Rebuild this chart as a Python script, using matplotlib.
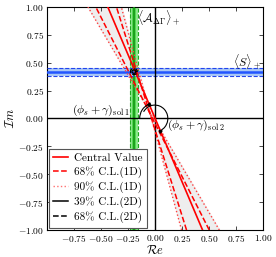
import numpy as np
import matplotlib
matplotlib.use("Agg")
import matplotlib.pyplot as plt
from matplotlib.patches import Arc
from matplotlib.ticker import FuncFormatter

plt.rcParams['mathtext.fontset'] = 'cm'
plt.rcParams['font.family'] = 'serif'
plt.rcParams['font.serif'] = ['DejaVu Serif']

# bande verticale (A_DeltaGamma) et horizontale (S)
re_center, re_half = -0.193, 0.035
im_center, im_half = 0.42, 0.035

# droites rouges : abscisse a Im=+1 et a Im=-1
x_top_central, x_bot_central = -0.435, 0.441
x_top_68 = [-0.546, -0.355]
x_bot_68 = [0.503, 0.293]
x_top_90 = [-0.618, -0.31]
x_bot_90 = [0.596, 0.247]

# contours 2D autour du point d'intersection (rayons Re, Im)
r39 = (0.018, 0.015)
r68 = (0.032, 0.026)

# arcs des angles (rayon, theta1, theta2)
arc_sol1 = (0.14, 114, 180)
arc_sol2 = (0.12, -66, 150)

xticks = [-0.75, -0.50, -0.25, 0.00, 0.25, 0.50, 0.75, 1.00]
yticks = [-1.00, -0.75, -0.50, -0.25, 0.00, 0.25, 0.50, 0.75, 1.00]

legend_labels = ['Central Value', '68% C.L.(1D)', '90% C.L.(1D)', '39% C.L.(2D)', '68% C.L.(2D)']

y = np.array([-1.0, 1.0])

def ligne(xt, xb):
    return np.array([xb, xt])

fig = plt.figure(figsize=(2.76, 2.57), dpi=100)
ax = fig.add_axes([0.169, 0.105, 0.784, 0.868])

# eventail gris entre les lignes 90%
yy = np.linspace(-1, 1, 201)
l1 = np.interp(yy, y, ligne(x_top_90[0], x_bot_90[0]))
l2 = np.interp(yy, y, ligne(x_top_90[1], x_bot_90[1]))
ax.fill_betweenx(yy, l1, l2, color='#eeeeee', zorder=1)

# bande verte
ax.axvspan(re_center - re_half, re_center + re_half, color='#8fe88f', lw=0, zorder=2)
ax.axvspan(re_center - re_half * 0.5, re_center + re_half * 0.5, color='#55d655', lw=0, zorder=2)
for s in (-1, 1):
    ax.axvline(re_center + s * re_half, color='#22aa22', ls='--', lw=0.8, zorder=3)
ax.axvline(re_center, color='#119911', lw=1.2, zorder=3)

# bande bleue
ax.axhspan(im_center - im_half, im_center + im_half, color='#a9c8f5', lw=0, zorder=2)
for s in (-1, 1):
    ax.axhline(im_center + s * im_half, color='#2244ee', ls='--', lw=0.8, zorder=3)
ax.axhline(im_center, color='#2255ff', lw=1.8, zorder=3)

# axes noirs
ax.axhline(0, color='black', lw=1, zorder=3)
ax.axvline(0, color='black', lw=1, zorder=3)

# droites rouges
for xt, xb in zip(x_top_90, x_bot_90):
    ax.plot(ligne(xt, xb), y, color='#ff4040', ls=':', lw=1.0, zorder=4)
for xt, xb in zip(x_top_68, x_bot_68):
    ax.plot(ligne(xt, xb), y, color='red', ls='--', lw=1.1, zorder=4)
ax.plot(ligne(x_top_central, x_bot_central), y, color='red', lw=1.2, zorder=4)

# contours 2D
t = np.linspace(0, 2 * np.pi, 100)
ax.plot(re_center + r39[0] * np.cos(t), im_center + r39[1] * np.sin(t), color='black', lw=0.9, zorder=5)
ax.plot(re_center + r68[0] * np.cos(t), im_center + r68[1] * np.sin(t), color='black', ls='--', lw=0.9, zorder=5)

# arcs
for r, t1, t2 in (arc_sol1, arc_sol2):
    ax.add_patch(Arc((0, 0), 2 * r, 2 * r, theta1=t1, theta2=t2, color='black', lw=0.8, zorder=5))
    a = np.deg2rad(t1)
    ax.plot(r * np.cos(a), r * np.sin(a), marker=(3, 0, t1), color='black', ms=2.5, zorder=6)

# textes
ax.text(-0.77, 0.05, r'$(\phi_s+\gamma)_{\rm sol\ 1}$', fontsize=8.5, ha='left', va='baseline', zorder=1.5)
ax.text(0.11, -0.06, r'$(\phi_s+\gamma)_{\rm sol\ 2}$', fontsize=8.5, ha='left', va='center', zorder=6)
ax.text(-0.165, 0.90, r'$\langle\mathcal{A}_{\Delta\Gamma}\rangle_+$', fontsize=8.5, ha='left', va='center', zorder=6)
ax.text(0.72, 0.51, r'$\langle S\rangle_+$', fontsize=8.5, ha='left', va='center', zorder=6)

# legende
h = [
    plt.Line2D([], [], color='red', lw=1.2),
    plt.Line2D([], [], color='red', ls='--', lw=1.1),
    plt.Line2D([], [], color='#ff7070', ls=':', lw=1.0),
    plt.Line2D([], [], color='black', lw=1.1),
    plt.Line2D([], [], color='black', ls='--', lw=1.1),
]
leg = ax.legend(h, legend_labels, loc='lower left', prop={'family': 'cmr10', 'size': 8},
                fancybox=False, edgecolor='#555555', framealpha=1, handlelength=1.3,
                borderaxespad=0.2, labelspacing=0.3, handletextpad=0.6, borderpad=0.4)
leg.get_frame().set_linewidth(0.8)
leg.set_zorder(10)

ax.set_xlim(-1, 1)
ax.set_ylim(-1, 1)
ax.set_xticks(xticks)
ax.set_yticks(yticks)
fmt = FuncFormatter(lambda v, p: '$%.2f$' % v)
ax.xaxis.set_major_formatter(fmt)
ax.yaxis.set_major_formatter(fmt)
ax.tick_params(direction='in', top=True, right=True, labelsize=6.8, length=3, width=0.5, pad=2)
ax.set_xlabel(r'$\mathcal{R}e$', fontsize=9, labelpad=0)
ax.set_ylabel(r'$\mathcal{I}m$', fontsize=9, labelpad=1)
for s in ax.spines.values():
    s.set_linewidth(0.8)

fig.savefig('out.png', dpi=100)
